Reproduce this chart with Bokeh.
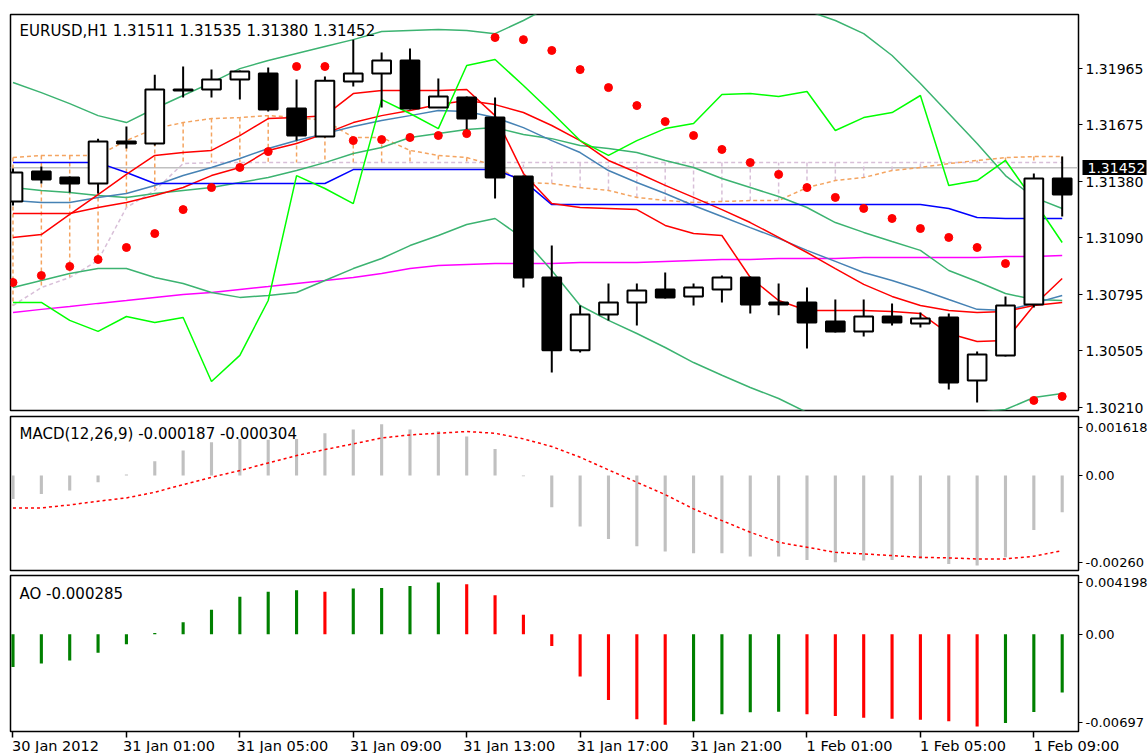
from bokeh.plotting import figure
from bokeh.layouts import column
from bokeh.models import Range1d, FixedTicker, Label, Span, LinearAxis
from bokeh.embed import file_html
from bokeh.resources import INLINE

FONT = "DejaVu Sans"

# ---------------- data ----------------
x_ticks = [0, 4, 8, 12, 16, 20, 24, 28, 32, 36]
x_tick_labels = ["30 Jan 2012", "31 Jan 01:00", "31 Jan 05:00", "31 Jan 09:00", "31 Jan 13:00",
                 "31 Jan 17:00", "31 Jan 21:00", "1 Feb 01:00", "1 Feb 05:00", "1 Feb 09:00"]
price_ticks = [1.31965, 1.31675, 1.31380, 1.31090, 1.30795, 1.30505, 1.30210]
last_price = 1.31452

open_ = [1.31278, 1.31433, 1.31402, 1.31371, 1.31578, 1.31578, 1.31852, 1.31857, 1.31909, 1.31940,
         1.31759, 1.31614, 1.31898, 1.31940, 1.32007, 1.31764, 1.31816, 1.31712, 1.31407, 1.30885,
         1.30508, 1.30694, 1.30756, 1.30823, 1.30787, 1.30823, 1.30885, 1.30756, 1.30756, 1.30657,
         1.30606, 1.30683, 1.30647, 1.30678, 1.30352, 1.30482, 1.30745, 1.31397]
high = [1.31448, 1.31459, 1.31407, 1.31603, 1.31666, 1.31934, 1.31976, 1.31960, 1.31955, 1.31971,
        1.31909, 1.31924, 1.32115, 1.32048, 1.32069, 1.31914, 1.31821, 1.31816, 1.31412, 1.31050,
        1.30740, 1.30854, 1.30854, 1.30911, 1.30854, 1.30895, 1.30890, 1.30854, 1.30833, 1.30771,
        1.30771, 1.30751, 1.30704, 1.30699, 1.30502, 1.30787, 1.31423, 1.31510]
low = [1.31257, 1.31371, 1.31324, 1.31319, 1.31552, 1.31567, 1.31816, 1.31816, 1.31805, 1.31743,
       1.31593, 1.31609, 1.31872, 1.31764, 1.31754, 1.31764, 1.31635, 1.31293, 1.30833, 1.30394,
       1.30497, 1.30663, 1.30637, 1.30776, 1.30740, 1.30756, 1.30699, 1.30689, 1.30518, 1.30601,
       1.30580, 1.30637, 1.30626, 1.30306, 1.30239, 1.30476, 1.30730, 1.31200]
close = [1.31428, 1.31392, 1.31371, 1.31588, 1.31588, 1.31857, 1.31857, 1.31909, 1.31950, 1.31754,
         1.31619, 1.31903, 1.31940, 1.32007, 1.31759, 1.31821, 1.31707, 1.31402, 1.30885, 1.30508,
         1.30694, 1.30756, 1.30818, 1.30782, 1.30833, 1.30885, 1.30745, 1.30745, 1.30652, 1.30606,
         1.30683, 1.30652, 1.30673, 1.30342, 1.30487, 1.30740, 1.31397, 1.31314]

bb_upper = [1.31893, 1.31841, 1.31784, 1.31722, 1.31686, 1.31759, 1.31826, 1.31893, 1.31965, 1.32007,
            1.32043, 1.32079, 1.32115, 1.32157, 1.32162, 1.32167, 1.32162, 1.32146, 1.32214, 1.32291,
            1.32379, 1.32431, 1.32462, 1.32472, 1.32462, 1.32431, 1.32379, 1.32317, 1.32265, 1.32214,
            1.32146, 1.32033, 1.31888, 1.31733, 1.31578, 1.31412, 1.31299, 1.31242]
bb_mid = [1.31350, 1.31335, 1.31324, 1.31309, 1.31299, 1.31319, 1.31335, 1.31350, 1.31376, 1.31402,
          1.31438, 1.31479, 1.31526, 1.31557, 1.31609, 1.31629, 1.31650, 1.31660, 1.31624, 1.31603,
          1.31567, 1.31552, 1.31531, 1.31490, 1.31454, 1.31397, 1.31350, 1.31304, 1.31247, 1.31169,
          1.31118, 1.31071, 1.31025, 1.30921, 1.30864, 1.30802, 1.30771, 1.30766]
bb_lower = [1.30833, 1.30869, 1.30906, 1.30931, 1.30931, 1.30885, 1.30854, 1.30807, 1.30782, 1.30792,
            1.30807, 1.30869, 1.30931, 1.30983, 1.31050, 1.31102, 1.31159, 1.31190, 1.31087, 1.30921,
            1.30740, 1.30663, 1.30595, 1.30523, 1.30445, 1.30379, 1.30316, 1.30259, 1.30187, 1.30146,
            1.30109, 1.30120, 1.30146, 1.30171, 1.30187, 1.30202, 1.30264, 1.30285]

ma_red = [1.31216, 1.31216, 1.31216, 1.31247, 1.31273, 1.31309, 1.31350, 1.31412, 1.31454, 1.31542,
          1.31578, 1.31629, 1.31686, 1.31722, 1.31748, 1.31779, 1.31800, 1.31779, 1.31738, 1.31671,
          1.31593, 1.31490, 1.31428, 1.31361, 1.31299, 1.31236, 1.31169, 1.31092, 1.31014, 1.30931,
          1.30849, 1.30787, 1.30740, 1.30714, 1.30704, 1.30709, 1.30740, 1.30756]
ma_steel = [1.31283, 1.31273, 1.31273, 1.31299, 1.31319, 1.31361, 1.31412, 1.31454, 1.31500, 1.31552,
            1.31593, 1.31629, 1.31666, 1.31697, 1.31722, 1.31748, 1.31743, 1.31712, 1.31660, 1.31593,
            1.31531, 1.31438, 1.31376, 1.31319, 1.31257, 1.31200, 1.31143, 1.31087, 1.31025, 1.30968,
            1.30911, 1.30869, 1.30823, 1.30771, 1.30720, 1.30714, 1.30751, 1.30792]
ma_magenta = [1.30704, 1.30720, 1.30735, 1.30751, 1.30766, 1.30782, 1.30797, 1.30807, 1.30823, 1.30838,
              1.30854, 1.30869, 1.30885, 1.30906, 1.30931, 1.30947, 1.30952, 1.30957, 1.30957, 1.30957,
              1.30962, 1.30962, 1.30962, 1.30968, 1.30973, 1.30978, 1.30978, 1.30983, 1.30983, 1.30983,
              1.30988, 1.30988, 1.30988, 1.30988, 1.30988, 1.30994, 1.30994, 1.30999]

tenkan = [1.31092, 1.31107, 1.31211, 1.31314, 1.31418, 1.31516, 1.31531, 1.31542, 1.31619, 1.31707,
          1.31712, 1.31722, 1.31836, 1.31852, 1.31852, 1.31852, 1.31857, 1.31722, 1.31423, 1.31267,
          1.31247, 1.31242, 1.31236, 1.31154, 1.31112, 1.31102, 1.30885, 1.30766, 1.30714, 1.30714,
          1.30714, 1.30709, 1.30699, 1.30595, 1.30554, 1.30559, 1.30740, 1.30880]
kijun = [1.31479, 1.31479, 1.31479, 1.31479, 1.31428, 1.31371, 1.31371, 1.31371, 1.31371, 1.31371,
         1.31371, 1.31371, 1.31443, 1.31443, 1.31443, 1.31443, 1.31443, 1.31443, 1.31386, 1.31262,
         1.31262, 1.31262, 1.31262, 1.31262, 1.31262, 1.31262, 1.31262, 1.31262, 1.31262, 1.31262,
         1.31262, 1.31262, 1.31262, 1.31242, 1.31195, 1.31190, 1.31190, 1.31190]
chikou = [1.30756, 1.30756, 1.30663, 1.30606, 1.30683, 1.30652, 1.30678, 1.30347, 1.30482, 1.30766,
          1.31412, 1.31345, 1.31267, 1.31805, 1.31733, 1.31655, 1.31981, 1.32012, 1.31878, 1.31738,
          1.31593, 1.31516, 1.31593, 1.31655, 1.31681, 1.31831, 1.31836, 1.31821, 1.31847, 1.31645,
          1.31712, 1.31738, 1.31826, 1.31361, 1.31386, 1.31490, 1.31283, 1.31066]
span_a = [1.31505, 1.31516, 1.31516, 1.31516, 1.31593, 1.31655, 1.31686, 1.31707, 1.31712, 1.31722,
          1.31712, 1.31697, 1.31609, 1.31609, 1.31542, 1.31516, 1.31505, 1.31464, 1.31376, 1.31371,
          1.31350, 1.31335, 1.31299, 1.31283, 1.31273, 1.31278, 1.31283, 1.31283, 1.31350, 1.31386,
          1.31402, 1.31438, 1.31454, 1.31474, 1.31490, 1.31505, 1.31510, 1.31510]
span_b = [1.30740, 1.30833, 1.30885, 1.30973, 1.31247, 1.31335, 1.31474, 1.31479, 1.31479, 1.31479,
          1.31479, 1.31479, 1.31479, 1.31479, 1.31479, 1.31479, 1.31479, 1.31479, 1.31479, 1.31479,
          1.31479, 1.31479, 1.31479, 1.31479, 1.31479, 1.31479, 1.31479, 1.31479, 1.31479, 1.31479,
          1.31479, 1.31479, 1.31479, 1.31479, 1.31479, 1.31479, 1.31479, 1.31479]
sar = [1.30859, 1.30895, 1.30942, 1.30978, 1.31040, 1.31112, 1.31236, 1.31350, 1.31454, 1.31536,
       1.31976, 1.31976, 1.31593, 1.31598, 1.31609, 1.31619, 1.31629, 1.32126, 1.32115, 1.32059,
       1.31960, 1.31867, 1.31774, 1.31691, 1.31619, 1.31547, 1.31479, 1.31418, 1.31350, 1.31299,
       1.31242, 1.31190, 1.31138, 1.31092, 1.31040, 1.30957, 1.30249, 1.30270]

macd_main = [-0.000639, -0.000502, -0.000411, -0.000183, 0.00003, 0.000392, 0.000685, 0.000913, 0.001005, 0.000978,
             0.001005, 0.00116, 0.00126, 0.001405, 0.00126, 0.001215, 0.001069, 0.000731, -0.00002, -0.000868,
             -0.001397, -0.001735, -0.001936, -0.002082, -0.002128, -0.002128, -0.002219, -0.002219, -0.00231, -0.002375,
             -0.002329, -0.00231, -0.002283, -0.00242, -0.002466, -0.002238, -0.001489, -0.001005]
macd_signal = [-0.000886, -0.000886, -0.000804, -0.000703, -0.000612, -0.000457, -0.000247, -0.000046, 0.000137, 0.000347,
               0.000548, 0.000712, 0.000868, 0.00103, 0.001114, 0.00116, 0.001206, 0.00116, 0.001005, 0.000795,
               0.000502, 0.000156, -0.000183, -0.000521, -0.000913, -0.001233, -0.001553, -0.001827, -0.001964, -0.002101,
               -0.002146, -0.002192, -0.002238, -0.002256, -0.002283, -0.002283, -0.00221, -0.002055]
macd_ticks = [0.001315, 0.0, -0.00238]
macd_tick_labels = ["0.001618", "0.00", "-0.00260"]

ao = [-0.00235, -0.00211, -0.00189, -0.00133, -0.00072, 0.00008, 0.00085, 0.00175, 0.00267, 0.00304,
      0.00315, 0.00304, 0.00327, 0.00330, 0.00344, 0.00369, 0.00357, 0.00279, 0.00138, -0.00085,
      -0.00303, -0.00472, -0.0061, -0.00649, -0.00624, -0.00574, -0.00560, -0.00555, -0.00574, -0.00586,
      -0.00598, -0.00606, -0.00612, -0.00624, -0.00661, -0.00637, -0.00557, -0.00418]
ao_ticks = [0.00369, 0.0, -0.00633]
ao_tick_labels = ["0.004198", "0.00", "-0.00697"]

n = len(close)
xs = list(range(n))

# ---------------- layout helpers ----------------
xr = Range1d(-0.088, 37.575)


def make_fig(frame_h, top, bottom, y_range, label_size):
    p = figure(frame_width=1068, frame_height=frame_h, min_border_left=10, min_border_right=70,
               min_border_top=top, min_border_bottom=bottom, x_range=xr, y_range=y_range,
               output_backend="svg", toolbar_location=None, x_axis_location=None,
               y_axis_location="right")
    p.grid.visible = False
    p.outline_line_color = "black"
    p.outline_line_width = 1.5
    p.background_fill_color = "white"
    p.border_fill_color = "white"
    ax = p.yaxis[0]
    ax.major_tick_out = 4
    ax.major_tick_in = 0
    ax.minor_tick_out = 0
    ax.minor_tick_in = 0
    ax.axis_line_color = "black"
    ax.major_tick_line_color = "black"
    ax.major_label_text_font = FONT
    ax.major_label_text_font_size = label_size
    ax.major_label_text_color = "black"
    ax.major_label_standoff = 3
    return p


# ---------------- main price panel ----------------
p1 = make_fig(396, 14, 5, Range1d(1.30197, 1.32245), "14px")
p1.yaxis[0].ticker = FixedTicker(ticks=price_ticks)
p1.yaxis[0].major_label_overrides = {t: "%.5f" % t for t in price_ticks}

# current price marker on the price scale (black box drawn as an inward tick, white label)
price_box = LinearAxis(ticker=FixedTicker(ticks=[last_price], minor_ticks=[last_price]),
                       axis_line_color=None, major_tick_out=0, major_tick_in=0,
                       minor_tick_out=0, minor_tick_in=64, minor_tick_line_width=15,
                       minor_tick_line_color="black", minor_tick_line_cap="butt",
                       major_label_standoff=-59, major_label_text_font=FONT,
                       major_label_text_font_size="14px", major_label_text_color="white")
price_box.major_label_overrides = {last_price: "%.5f" % last_price}
p1.add_layout(price_box, "right")

p1.add_layout(Span(location=last_price, dimension="width", line_color="#C0C0C0",
                   line_width=1.5, level="underlay"))

# Ichimoku cloud hatch
cloud_col = ["#F4A460" if a >= b else "#D8BFD8" for a, b in zip(span_a, span_b)]
p1.segment(x0=xs, y0=span_a, x1=xs, y1=span_b, line_color=cloud_col, line_width=1.5, line_dash="4 3")
p1.line(xs, span_b, line_color="#D8BFD8", line_width=1.5, line_dash="4 3")
p1.line(xs, span_a, line_color="#F4A460", line_width=1.5, line_dash="4 3")

p1.line(xs, ma_magenta, line_color="#FF00FF", line_width=1.5)
p1.line(xs, bb_upper, line_color="#3CB371", line_width=1.5)
p1.line(xs, bb_mid, line_color="#3CB371", line_width=1.5)
p1.line(xs, bb_lower, line_color="#3CB371", line_width=1.5)
p1.line(xs, ma_steel, line_color="#4682B4", line_width=1.5)
p1.line(xs, ma_red, line_color="#FF0000", line_width=1.5)
p1.line(xs, kijun, line_color="#0000FF", line_width=1.5)
p1.line(xs, tenkan, line_color="#FF0000", line_width=1.5)
p1.line(xs, chikou, line_color="#00FF00", line_width=1.5)

# candles
p1.segment(x0=xs, y0=high, x1=xs, y1=low, line_color="black", line_width=2)
body_top = [max(o, c) for o, c in zip(open_, close)]
body_bot = [min(o, c) for o, c in zip(open_, close)]
body_fill = ["white" if c >= o else "black" for o, c in zip(open_, close)]
p1.vbar(x=xs, width=0.66, top=body_top, bottom=body_bot, fill_color=body_fill,
        line_color="black", line_width=2)

# parabolic SAR
p1.scatter(xs, sar, marker="circle", size=8, fill_color="#FF0000", line_color="#FF0000")

p1.add_layout(Label(x=9, y=380, x_units="screen", y_units="screen",
                    text="EURUSD,H1  1.31511 1.31535 1.31380 1.31452", text_font=FONT,
                    text_font_size="15px", text_color="black", text_baseline="middle"))

# ---------------- MACD panel ----------------
p2 = make_fig(154, 1, 2, Range1d(-0.0026, 0.001618), "13px")
p2.yaxis[0].ticker = FixedTicker(ticks=macd_ticks)
p2.yaxis[0].major_label_overrides = dict(zip(macd_ticks, macd_tick_labels))
p2.vbar(x=xs, width=0.11, top=macd_main, bottom=0, fill_color="#C0C0C0", line_color=None)
p2.line(xs, macd_signal, line_color="#FF0000", line_width=1.5, line_dash="3 3")
p2.add_layout(Label(x=9, y=137, x_units="screen", y_units="screen",
                    text="MACD(12,26,9) -0.000187 -0.000304", text_font=FONT,
                    text_font_size="15px", text_color="black", text_baseline="middle"))

# ---------------- AO panel ----------------
p3 = make_fig(156, 3, 0, Range1d(-0.00697, 0.004198), "13px")
p3.yaxis[0].ticker = FixedTicker(ticks=ao_ticks)
p3.yaxis[0].major_label_overrides = dict(zip(ao_ticks, ao_tick_labels))
ao_col = ["#008000"] + ["#008000" if ao[i] > ao[i - 1] else "#FF0000" for i in range(1, n)]
p3.vbar(x=xs, width=0.11, top=ao, bottom=0, fill_color=ao_col, line_color=None)
p3.add_layout(Label(x=9, y=138, x_units="screen", y_units="screen",
                    text="AO -0.000285", text_font=FONT,
                    text_font_size="15px", text_color="black", text_baseline="middle"))

# time axis: tick marks, then left-aligned labels
ax_ticks = LinearAxis(ticker=FixedTicker(ticks=x_ticks), major_label_text_font_size="0px",
                      major_label_standoff=0, major_tick_out=6, major_tick_in=0,
                      minor_tick_out=0, minor_tick_in=0, axis_line_color="black",
                      major_tick_line_color="black", major_tick_line_width=1.5)
ax_ticks.major_label_overrides = {t: "" for t in x_ticks}
p3.add_layout(ax_ticks, "below")
label_pos = [t + 1.5 for t in x_ticks]
ax_labels = LinearAxis(ticker=FixedTicker(ticks=label_pos), major_tick_out=0, major_tick_in=0,
                       minor_tick_out=0, minor_tick_in=0, axis_line_color=None,
                       major_label_standoff=0, major_label_text_font=FONT,
                       major_label_text_font_size="14.5px", major_label_text_color="black")
ax_labels.major_label_overrides = dict(zip(label_pos, x_tick_labels))
p3.add_layout(ax_labels, "below")

layout = column(p1, p2, p3, spacing=0)
open("out.html", "w").write(file_html(layout, INLINE))
